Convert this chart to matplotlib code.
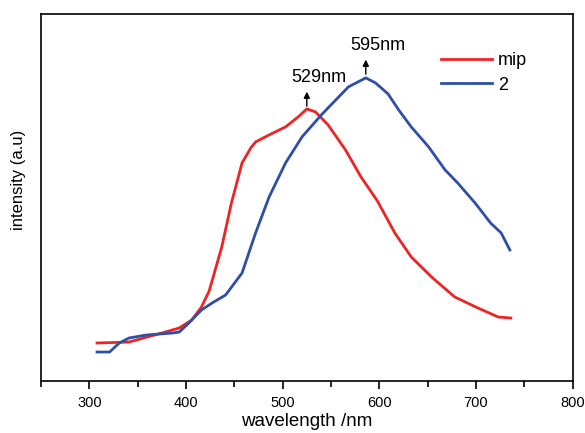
import numpy as np
import matplotlib.pyplot as plt
from matplotlib.ticker import MultipleLocator

plt.rcParams['font.family'] = ['Liberation Sans', 'DejaVu Sans']

# values (intensity in arbitrary units)
mip_nm = [308, 341, 375, 393, 406, 416, 424, 437, 447, 458, 467, 472, 486, 503,
          516, 525, 534, 547, 565, 581, 598, 616, 633, 654, 678, 702, 723, 736]
mip_int = [38, 39, 48, 53, 61, 74, 90, 134, 178, 218, 233, 239, 246, 254,
           264, 272, 269, 256, 231, 204, 180, 148, 124, 104, 84, 73, 64, 63]

s2_nm = [308, 321, 331, 341, 359, 386, 393, 403, 416, 427, 441, 458, 472, 486,
         503, 520, 540, 555, 568, 578, 586, 596, 609, 620, 633, 651, 668, 681,
         699, 715, 726, 735]
s2_int = [29, 29, 38, 43, 46, 48, 49, 58, 71, 78, 86, 108, 148, 184,
          218, 244, 266, 281, 294, 299, 303, 298, 287, 271, 254, 234, 211, 198,
          178, 158, 148, 131]

peak_x = [525, 586]
peak_y = [271, 303]
peak_labels = ['529nm', '595nm']

fig = plt.figure(figsize=(5.85, 4.33), dpi=100)
ax = fig.add_axes([0.070, 0.120, 0.909, 0.848])

ax.plot(mip_nm, mip_int, color='#ee2424', lw=2.0, label='mip')
ax.plot(s2_nm, s2_int, color='#2f4ea8', lw=2.0, label='2')

for x, y, txt in zip(peak_x, peak_y, peak_labels):
    ax.annotate('', xy=(x, y + 21), xytext=(x, y + 1),
                arrowprops=dict(arrowstyle='-|>', color='black', lw=1, mutation_scale=9))
    ax.text(x + 12, y + 24, txt, ha='center', va='bottom', fontsize=13)

ax.set_xlim(250, 800)
ax.set_ylim(0, 367)
ax.xaxis.set_major_locator(MultipleLocator(100))
ax.xaxis.set_minor_locator(MultipleLocator(50))
ax.set_yticks([])
ax.tick_params(axis='x', which='major', length=6, width=1.2, labelsize=10.5,
               direction='out', pad=5)
ax.tick_params(axis='x', which='minor', length=4, width=1.2)
for s in ax.spines.values():
    s.set_linewidth(1.2)

ax.set_xlabel('wavelength /nm', fontsize=13.5, labelpad=2)
ax.set_ylabel('intensity (a.u)', fontsize=12)
ax.yaxis.set_label_coords(-0.028, 0.548)

ax.legend(loc='upper left', bbox_to_anchor=(0.752, 0.895), frameon=False, fontsize=13,
          borderpad=0, borderaxespad=0, handlelength=2.85, handletextpad=0.3,
          labelspacing=0.4)

fig.savefig('out.png', dpi=100)
